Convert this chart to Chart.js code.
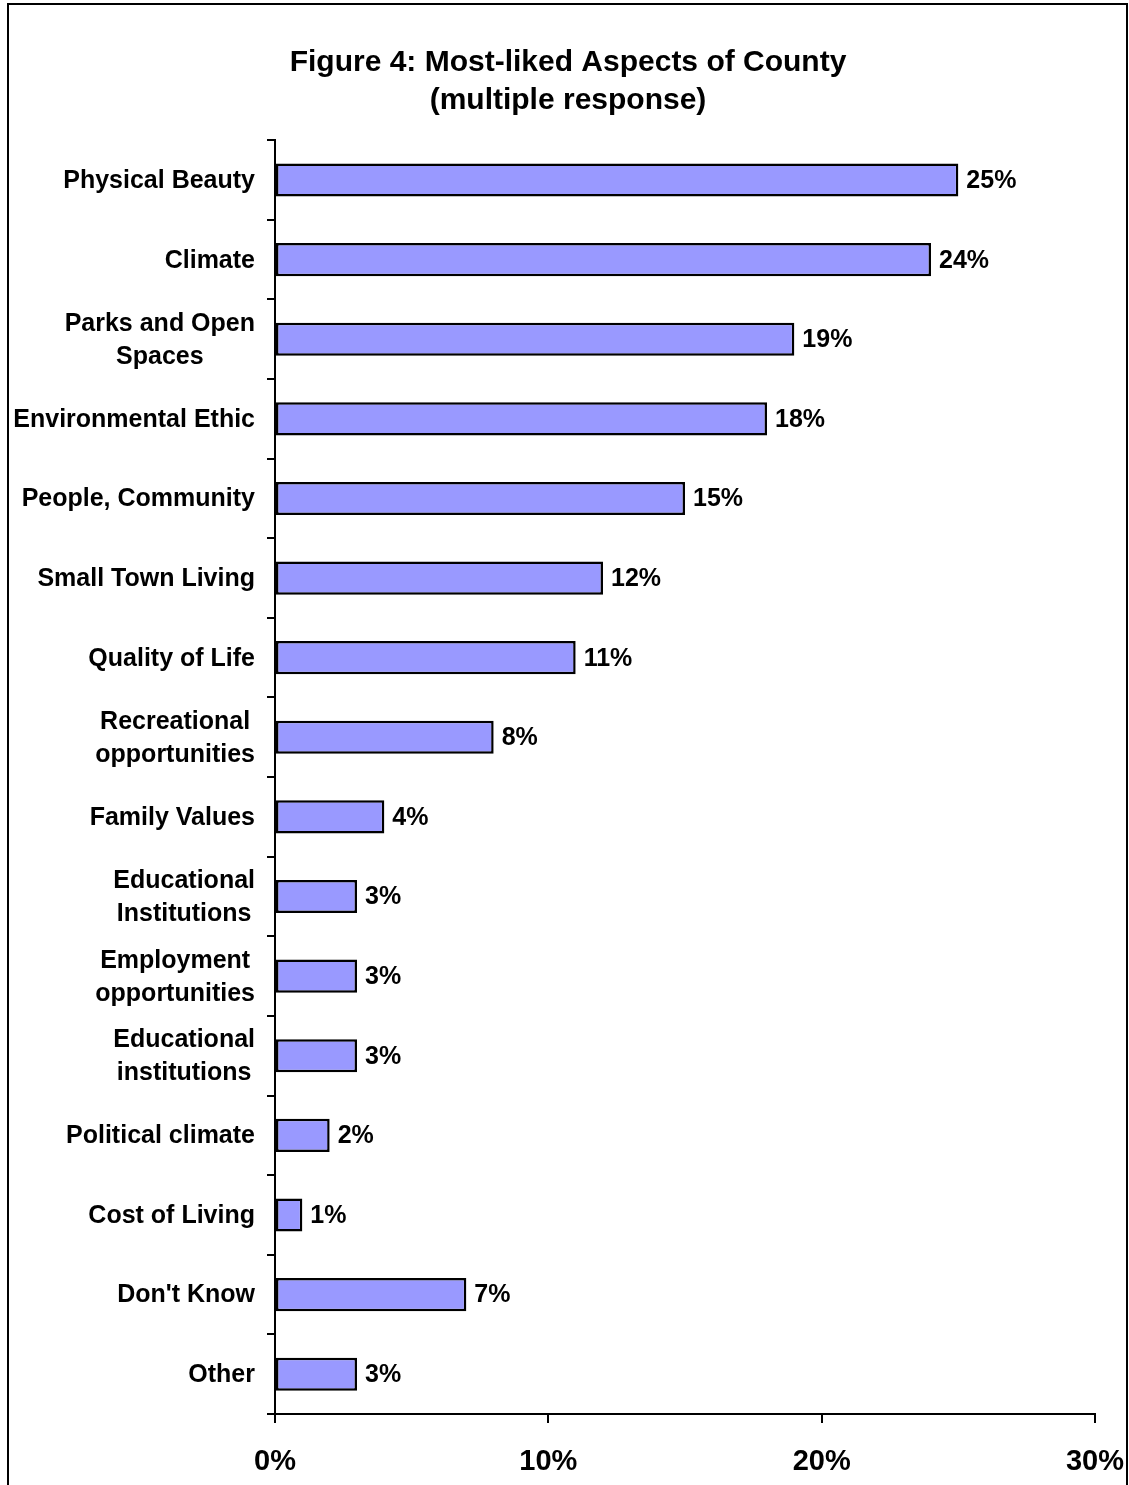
<!DOCTYPE html>
<html>
<head>
<meta charset="utf-8">
<script src="https://cdn.jsdelivr.net/npm/chart.js@4/dist/chart.umd.min.js"></script>
<style>
  html, body { margin: 0; padding: 0; background: #fff; }
  canvas { display: block; }
</style>
</head>
<body>
<canvas id="c" width="1129" height="1485"></canvas>
<script>
const titleLines = ['Figure 4: Most-liked Aspects of County', '(multiple response)'];
const categories = [
  ['Physical Beauty'],
  ['Climate'],
  ['Parks and Open', 'Spaces'],
  ['Environmental Ethic'],
  ['People, Community'],
  ['Small Town Living'],
  ['Quality of Life'],
  ['Recreational', 'opportunities'],
  ['Family Values'],
  ['Educational', 'Institutions'],
  ['Employment', 'opportunities'],
  ['Educational', 'institutions'],
  ['Political climate'],
  ['Cost of Living'],
  ["Don't Know"],
  ['Other']
];
const values = [25, 24, 19, 18, 15, 12, 11, 8, 4, 3, 3, 3, 2, 1, 7, 3];
const xTicks = [0, 10, 20, 30];

const FONT = '"Liberation Sans", Arial, Helvetica, sans-serif';

const frame = {
  id: 'frame',
  beforeDraw(chart) {
    const ctx = chart.ctx;
    ctx.save();
    ctx.fillStyle = '#fff';
    ctx.fillRect(0, 0, chart.width, chart.height);
    ctx.strokeStyle = '#000';
    ctx.lineWidth = 2;
    ctx.strokeRect(8, 4, 1119, 1520);
    ctx.restore();
  }
};

// Category labels: lines centred on each other, block right-aligned to the axis
const categoryLabels = {
  id: 'categoryLabels',
  afterDraw(chart) {
    const ctx = chart.ctx;
    const y = chart.scales.y;
    const rightEdge = y.right - 8 - 12;
    const lh = 33;
    ctx.save();
    ctx.font = 'bold 25px ' + FONT;
    ctx.fillStyle = '#000';
    ctx.textAlign = 'center';
    ctx.textBaseline = 'middle';
    categories.forEach((lines, i) => {
      const maxW = Math.max(...lines.map(l => ctx.measureText(l).width));
      const cx = rightEdge - maxW / 2;
      const cy = y.getPixelForValue(i) + 1;
      lines.forEach((l, j) => {
        ctx.fillText(l, cx, cy + (j - (lines.length - 1) / 2) * lh);
      });
    });
    ctx.restore();
  }
};

const valueLabels = {
  id: 'valueLabels',
  afterDatasetsDraw(chart) {
    const ctx = chart.ctx;
    const meta = chart.getDatasetMeta(0);
    ctx.save();
    ctx.font = 'bold 25px ' + FONT;
    ctx.fillStyle = '#000';
    ctx.textAlign = 'left';
    ctx.textBaseline = 'middle';
    meta.data.forEach((bar, i) => {
      ctx.fillText(values[i] + '%', bar.x + 8, bar.y + 1);
    });
    ctx.restore();
  }
};

new Chart(document.getElementById('c'), {
  type: 'bar',
  data: {
    labels: categories.map(l => l.join(' ')),
    datasets: [{
      data: values,
      backgroundColor: '#9999FF',
      borderColor: '#000',
      borderWidth: 2.5,
      borderSkipped: false,
      categoryPercentage: 0.8,
      barPercentage: 0.52
    }]
  },
  options: {
    indexAxis: 'y',
    responsive: false,
    animation: false,
    devicePixelRatio: 1,
    layout: { padding: { left: 41, right: 34, top: 0, bottom: 0 } },
    plugins: {
      legend: { display: false },
      tooltip: { enabled: false },
      title: {
        display: true,
        text: titleLines,
        color: '#000',
        font: { family: FONT, size: 30, weight: 'bold', lineHeight: 1.27 },
        padding: { top: 44, bottom: 20 }
      }
    },
    scales: {
      y: {
        type: 'category',
        offset: true,
        grid: {
          offset: true,
          drawOnChartArea: false,
          drawTicks: true,
          tickLength: 8,
          color: '#000',
          lineWidth: 2
        },
        border: { display: true, color: '#000', width: 2 },
        ticks: { display: false, autoSkip: false },
        afterFit(scale) { scale.width = 234; }
      },
      x: {
        type: 'linear',
        min: 0,
        max: 30,
        afterBuildTicks(scale) { scale.ticks = xTicks.map(v => ({ value: v })); },
        grid: {
          drawOnChartArea: false,
          drawTicks: true,
          tickLength: 9,
          color: '#000',
          lineWidth: 2
        },
        border: { display: true, color: '#000', width: 2 },
        ticks: {
          color: '#000',
          padding: 22,
          maxRotation: 0,
          font: { family: FONT, size: 29, weight: 'bold' },
          callback: v => v + '%'
        },
        afterFit(scale) {
          scale.height = 71;
          scale.paddingLeft = 0;
          scale.paddingRight = 0;
        }
      }
    }
  },
  plugins: [frame, valueLabels, categoryLabels]
});
</script>
</body>
</html>
